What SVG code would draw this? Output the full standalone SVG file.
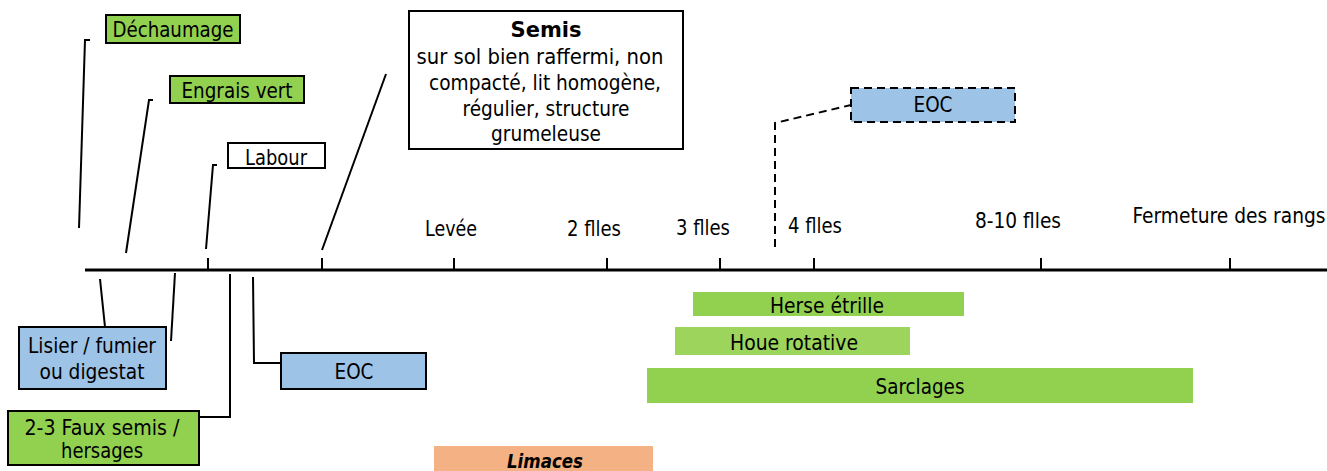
<svg xmlns="http://www.w3.org/2000/svg" width="1327" height="471" viewBox="0 0 1327 471">
<style>
text{font-family:"DejaVu Sans Condensed","DejaVu Sans",sans-serif;font-stretch:condensed;font-size:21px;fill:#000;text-anchor:middle}
.b{font-family:"DejaVu Sans",sans-serif;font-stretch:normal;font-weight:bold;font-size:21px}
.bi{font-family:"DejaVu Sans",sans-serif;font-stretch:normal;font-weight:bold;font-style:italic;font-size:19px}
.s{font-size:21.5px}
.box{stroke:#000;stroke-width:2}
.g{fill:#92D050}
.bl{fill:#9DC3E6}
.w{fill:#fff}
.ln{stroke:#000;stroke-width:2;fill:none}
.dash{stroke:#000;stroke-width:2;fill:none;stroke-dasharray:8 5}
</style>
<rect width="1327" height="471" fill="#fff"/>
<g id="connectors">
<line x1="85" y1="270" x2="1327" y2="270" stroke="#000" stroke-width="3"/>
<path class="ln" d="M208 258V270M322 258V270M454 258V270M607 258V270M720 258V270M814 258V270M1041 258V270M1230 258V270"/>
<polyline class="ln" points="79,228 85,40 90,40"/>
<polyline class="ln" points="126,253 149,100 153,100"/>
<polyline class="ln" points="206,249 213,165 217,165"/>
<line class="ln" x1="322" y1="250" x2="386" y2="74"/>
<line class="ln" x1="100" y1="279" x2="105" y2="327"/>
<line class="ln" x1="175" y1="273" x2="171" y2="341"/>
<polyline class="ln" points="230,274 230,417 199,417"/>
<polyline class="ln" points="253,277 254,363 281,363"/>
<polyline class="dash" points="775,247 775,123 851,105"/>
</g>
<g id="dechaumage"><rect class="box g" x="106" y="15" width="134" height="28"/><text x="173" y="37" textLength="121" lengthAdjust="spacingAndGlyphs">Déchaumage</text></g>
<g id="engrais-vert"><rect class="box g" x="170" y="76" width="134" height="27"/><text x="237" y="98" textLength="111" lengthAdjust="spacingAndGlyphs">Engrais vert</text></g>
<g id="labour"><rect class="box w" x="228" y="143" width="97" height="25"/><text x="276" y="165" textLength="62" lengthAdjust="spacingAndGlyphs">Labour</text></g>
<g id="semis"><rect class="box w" x="409" y="11" width="274" height="138"/>
<text class="b" x="546" y="37">Semis</text>
<text class="s" x="540" y="64" textLength="247" lengthAdjust="spacingAndGlyphs">sur sol bien raffermi, non</text>
<text class="s" x="545" y="90" textLength="232" lengthAdjust="spacingAndGlyphs">compacté, lit homogène,</text>
<text class="s" x="546" y="116" textLength="167" lengthAdjust="spacingAndGlyphs">régulier, structure</text>
<text class="s" x="546" y="141" textLength="110" lengthAdjust="spacingAndGlyphs">grumeleuse</text></g>
<g id="eoc-top"><rect x="851" y="88" width="164" height="34" fill="#9DC3E6" stroke="#000" stroke-width="2" stroke-dasharray="8 5"/><text x="933" y="112" textLength="39" lengthAdjust="spacingAndGlyphs">EOC</text></g>
<g id="axis-labels">
<text x="451" y="236" textLength="52" lengthAdjust="spacingAndGlyphs">Levée</text>
<text x="594" y="236" textLength="54" lengthAdjust="spacingAndGlyphs">2 flles</text>
<text x="703" y="235" textLength="54" lengthAdjust="spacingAndGlyphs">3 flles</text>
<text x="815" y="233" textLength="54" lengthAdjust="spacingAndGlyphs">4 flles</text>
<text x="1018" y="228" textLength="86" lengthAdjust="spacingAndGlyphs">8-10 flles</text>
<text x="1229" y="223" textLength="193" lengthAdjust="spacingAndGlyphs">Fermeture des rangs</text>
</g>
<g id="lisier"><rect class="box bl" x="19" y="327" width="147" height="62"/><text x="92" y="353" textLength="128" lengthAdjust="spacingAndGlyphs">Lisier / fumier</text><text x="92" y="379" textLength="105" lengthAdjust="spacingAndGlyphs">ou digestat</text></g>
<g id="faux-semis"><rect class="box g" x="8" y="411" width="191" height="54"/><text x="102" y="435" textLength="155" lengthAdjust="spacingAndGlyphs">2-3 Faux semis /</text><text x="102" y="458" textLength="82" lengthAdjust="spacingAndGlyphs">hersages</text></g>
<g id="eoc-bottom"><rect class="box bl" x="281" y="353" width="145" height="36"/><text x="354" y="379" textLength="39" lengthAdjust="spacingAndGlyphs">EOC</text></g>
<g id="herse"><rect class="g" x="693" y="292" width="271" height="24"/><text x="827" y="313" textLength="114" lengthAdjust="spacingAndGlyphs">Herse étrille</text></g>
<g id="houe"><rect x="675" y="327" width="235" height="28" fill="#9CD45C"/><text x="794" y="350" textLength="128" lengthAdjust="spacingAndGlyphs">Houe rotative</text></g>
<g id="sarclages"><rect class="g" x="647" y="368" width="546" height="35"/><text x="920" y="394" textLength="89" lengthAdjust="spacingAndGlyphs">Sarclages</text></g>
<g id="limaces"><rect x="434" y="446" width="219" height="25" fill="#F4B183"/><text class="bi" x="545" y="468" textLength="76" lengthAdjust="spacingAndGlyphs">Limaces</text></g>
</svg>
